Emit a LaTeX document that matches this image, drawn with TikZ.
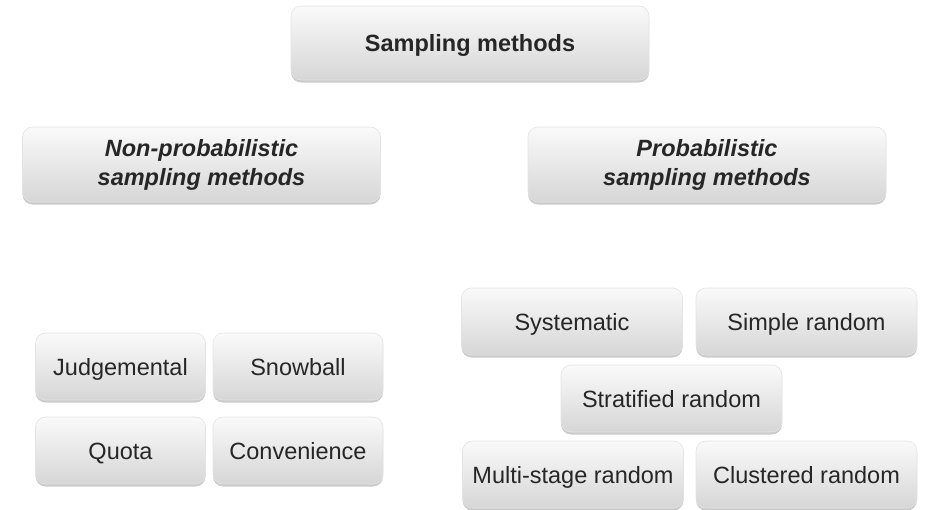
\documentclass[tikz,border=0pt]{standalone}
\usepackage{fontspec}
\setmainfont{Liberation Sans}
\usetikzlibrary{shapes,shadows,positioning}

\tikzset{
  box/.style={rectangle, rounded corners=10pt, draw=gray!22, line width=0.6pt,
    top color=gray!4, bottom color=gray!32, text=black!85,
    drop shadow={shadow xshift=0pt, shadow yshift=-2.5pt, fill=black!45, opacity=0.45},
    inner sep=0pt, align=center, font=\fontsize{23.5}{28}\selectfont},
  headbox/.style={box, minimum width=358pt, minimum height=75pt, font=\fontsize{23.5}{29}\selectfont\bfseries\itshape},
  onerow/.style={text height=17pt, text depth=0pt},
  smallbox/.style={box, onerow, minimum width=170pt, minimum height=67pt},
  widebox/.style={box, onerow, minimum width=221pt, minimum height=67pt}
}

\begin{document}
\begin{tikzpicture}[x=1pt,y=-1pt]
\useasboundingbox (0,0) rectangle (925,509);

% Root
\node[headbox, onerow, font=\fontsize{23.5}{28}\selectfont\bfseries, minimum height=74pt] (root) at (470,43) {Sampling methods};

% Two families
\node[headbox] (nonprob) at (201.5,164.5) {Non-probabilistic\\sampling methods};
\node[headbox] (prob) at (707,164.5) {Probabilistic\\sampling methods};

% Non-probabilistic methods
\node[smallbox] (judg) at (120.5,366.5) {Judgemental};
\node[smallbox] (snow) at (298,366.5) {Snowball};
\node[smallbox] (quota) at (120.5,450.5) {Quota};
\node[smallbox] (conv) at (298,450.5) {Convenience};

% Probabilistic methods
\node[widebox] (syst) at (572,321.5) {Systematic};
\node[widebox] (simple) at (806.5,321.5) {Simple random};
\node[widebox] (strat) at (671.5,398.5) {Stratified random};
\node[widebox] (multi) at (573,474.5) {Multi-stage random};
\node[widebox] (clust) at (806.5,474.5) {Clustered random};
\end{tikzpicture}
\end{document}
